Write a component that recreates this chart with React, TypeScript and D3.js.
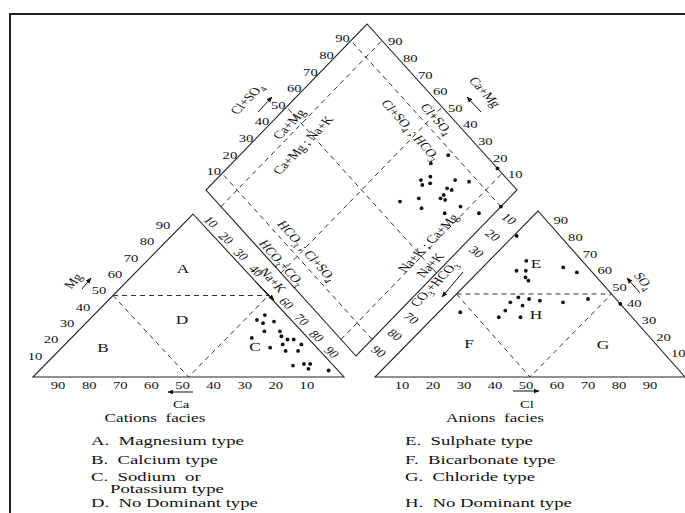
import React, { useEffect, useRef } from 'react'
import * as d3 from 'd3'

const W = 685
const H = 513
const FONT = '"Liberation Serif", "Times New Roman", serif'
// the printed figure is stretched sideways, its lettering too
const SX = 1.33

// tick labels
const ticks = [10, 20, 30, 40, 50, 60, 70, 80, 90]
const naKTicks = [10, 20, 30, 40, 60, 70, 80, 90]
const co3Ticks = [10, 20, 30, 70, 80, 90]

// cation triangle samples: [Na+K %, Mg %]
const cations = [
  [55, 38], [54, 35], [57, 33], [60, 34], [60, 28], [65, 28], [58, 24], [67, 25],
  [70, 23], [72, 23], [67, 18], [70, 20], [76, 20], [73, 16], [77, 16], [80, 7],
  [83, 8], [85, 8], [86, 5], [93, 4]
]

// anion triangle samples: [Cl %, SO4 %]
const anions = [
  [1, 85], [12, 70], [12, 64], [15, 64], [17, 60], [19, 58], [26, 66], [32, 63],
  [21, 48], [25, 47], [29, 46], [37, 45], [44, 47], [20, 45], [25, 43], [7, 39],
  [21, 40], [21, 36], [28, 36], [56, 44]
]

// diamond samples: [Ca+Mg %, Cl+SO4 %]
const diamond = [
  [33, 88], [13, 100], [36, 80], [34, 72], [32, 76], [32, 71], [30, 74], [23, 83],
  [18, 87], [34, 59], [29, 66], [25, 64], [23, 78], [21, 79], [22, 75], [22, 73],
  [20, 74], [13, 77], [16, 70], [5, 81], [0, 90]
]

const cationLegend = ['A.  Magnesium type', 'B.  Calcium type', 'C.  Sodium  or', 'D.  No Dominant type']
const anionLegend = ['E.  Sulphate type', 'F.  Bicarbonate type', 'G.  Chloride type', 'H.  No Dominant type']

type P = [number, number]

// affine frame: origin o, a -> towards u, b -> towards v (values in %)
const makeFrame = (o: P, u: P, v: P) => {
  const s = d3.scaleLinear().domain([0, 100]).range([0, 1])
  return (a: number, b: number): P => [
    o[0] + s(a) * (u[0] - o[0]) + s(b) * (v[0] - o[0]),
    o[1] + s(a) * (u[1] - o[1]) + s(b) * (v[1] - o[1])
  ]
}

const leftT = makeFrame([33, 377], [344, 377], [193, 214]) // (Na+K, Mg)
const rightT = makeFrame([375, 377], [685, 377], [538, 211]) // (Cl, SO4)
const dia = makeFrame([356, 356], [206, 190], [517, 190]) // (Ca+Mg, Cl+SO4)

const addText = (g: any, str: string, x: number, y: number, o: any = {}) => {
  const sx = o.sx || SX
  const th = ((o.rotate || 0) * Math.PI) / 180
  const phi = (Math.atan2(sx * Math.sin(th), Math.cos(th)) * 180) / Math.PI
  const t = g
    .append('text')
    .attr('transform', `translate(${x},${y}) scale(${sx},1) rotate(${phi})`)
    .attr('text-anchor', o.anchor || 'middle')
    .attr('dy', '0.35em')
    .attr('font-size', o.size || 11)
    .style('white-space', 'pre')
  let sub = false
  str.split(/(\{[^}]*\})/).forEach(p => {
    if (!p) return
    if (p.startsWith('{')) {
      t.append('tspan').attr('font-size', '0.72em').attr('dy', 3).text(p.slice(1, -1))
      sub = true
    } else {
      const ts = t.append('tspan').text(p)
      if (sub) {
        ts.attr('dy', -3)
        sub = false
      }
    }
  })
  return t
}

const App = () => {
  const ref = useRef<SVGSVGElement>(null)

  useEffect(() => {
    const svg = d3.select(ref.current)
    svg.selectAll('*').remove()

    svg
      .append('defs')
      .append('marker')
      .attr('id', 'ah')
      .attr('viewBox', '0 0 10 10')
      .attr('refX', 9)
      .attr('refY', 5)
      .attr('markerWidth', 6)
      .attr('markerHeight', 6)
      .attr('orient', 'auto')
      .append('path')
      .attr('d', 'M0,1L10,5L0,9Z')
      .attr('fill', '#111')

    const g = svg.append('g').attr('font-family', FONT).attr('fill', '#111')

    // frame
    g.append('rect')
      .attr('x', 10)
      .attr('y', 14)
      .attr('width', 1000)
      .attr('height', 1000)
      .attr('fill', 'none')
      .attr('stroke', '#222')
      .attr('stroke-width', 2)

    const line = d3.line()
    const solid = (pts: P[]) =>
      g.append('path').attr('d', line(pts) + 'Z').attr('fill', 'none').attr('stroke', '#222').attr('stroke-width', 1.1)
    const dashed = (pts: P[]) =>
      g.append('path').attr('d', line(pts)).attr('fill', 'none').attr('stroke', '#333').attr('stroke-width', 1).attr('stroke-dasharray', '5,4')
    const arrow = (a: P, b: P) =>
      g.append('line')
        .attr('x1', a[0]).attr('y1', a[1]).attr('x2', b[0]).attr('y2', b[1])
        .attr('stroke', '#111').attr('stroke-width', 1).attr('marker-end', 'url(#ah)')

    // outlines
    solid([leftT(0, 0), leftT(100, 0), leftT(0, 100)])
    solid([rightT(0, 0), rightT(100, 0), rightT(0, 100)])
    solid([dia(0, 0), dia(100, 0), dia(100, 100), dia(0, 100)])

    // facies boundaries
    ;[leftT, rightT].forEach(f => {
      dashed([f(0, 50), f(50, 50)])
      dashed([f(0, 50), f(50, 0), f(50, 50)])
    })
    ;[10, 50, 90].forEach(t => {
      dashed([dia(t, 0), dia(t, 100)])
      dashed([dia(0, t), dia(100, t)])
    })

    // ticks - cation triangle
    ticks.forEach(k => {
      const b = leftT(100 - k, 0)
      addText(g, String(k), b[0] - 6, b[1] + 8)
      const l = leftT(0, k)
      addText(g, String(k), l[0] - 14, l[1] - 5)
    })
    naKTicks.forEach(k => {
      const p = leftT(k, 100 - k)
      addText(g, String(k), p[0] + 3, p[1] - 8.5, { rotate: 40 })
    })

    // ticks - anion triangle
    ticks.forEach(k => {
      const b = rightT(k, 0)
      addText(g, String(k), b[0] - 4, b[1] + 8)
      const r = rightT(100 - k, k)
      addText(g, String(k), r[0] + 8, r[1] - 7)
    })
    co3Ticks.forEach(k => {
      const p = rightT(0, 100 - k)
      addText(g, String(k), p[0] - 12.5, p[1] - 9, { rotate: 35 })
    })

    // ticks - diamond
    ticks.forEach(k => {
      const a = dia(100, k)
      addText(g, String(k), a[0] - 1, a[1] - 2, { anchor: 'end' })
      const b = dia(k, 100)
      addText(g, String(k), b[0] + 6, b[1] + 1, { anchor: 'start' })
    })

    // axis names and arrows
    arrow([193, 392], [168, 392])
    addText(g, 'Ca', 181, 404)
    arrow([513, 391], [539, 391])
    addText(g, 'Cl', 527, 404)
    arrow([82, 289], [91, 278])
    addText(g, 'Mg', 73, 281, { rotate: -45 })
    arrow([255, 281], [274, 300])
    addText(g, 'Na+K', 273, 280, { rotate: 47 })
    arrow([640, 293], [627, 278])
    addText(g, 'SO{4}', 644, 281, { rotate: 50 })
    arrow([258, 112], [272, 97])
    addText(g, 'Cl+SO{4}', 247, 99, { rotate: -46 })
    arrow([481, 112], [467, 97])
    addText(g, 'Ca+Mg', 485, 92, { rotate: 48 })
    arrow([463, 272], [442, 297])
    addText(g, 'CO{3}+HCO{3}', 434, 284, { rotate: -46 })

    // diamond field names
    addText(g, 'Ca+Mg', 289, 124, { rotate: -46 })
    addText(g, 'Ca+Mg ; Na+K', 303, 145, { rotate: -46 })
    addText(g, 'Cl+SO{4}', 437, 119, { rotate: 48 })
    addText(g, 'Cl+SO{4} ; HCO{3}', 411, 130, { rotate: 48 })
    addText(g, 'HCO{3}+CO{3}', 282, 263, { rotate: 48 })
    addText(g, 'HCO{3} ; Cl+SO{4}', 307, 251, { rotate: 48 })
    addText(g, 'Na+K', 430, 265, { rotate: -46 })
    addText(g, 'Na+K ; Ca+Mg', 428, 243, { rotate: -46 })

    // facies letters
    const letters: [string, number, number][] = [
      ['A', 183, 268], ['D', 182, 319], ['B', 103, 347], ['C', 255, 346],
      ['E', 536, 263], ['H', 536, 314], ['F', 469, 343], ['G', 603, 344]
    ]
    letters.forEach(([s, x, y]) => addText(g, s, x, y, { size: 13 }))

    // samples
    const dot = (p: P) => g.append('circle').attr('cx', p[0]).attr('cy', p[1]).attr('r', 1.9).attr('fill', '#111')
    cations.forEach(d => dot(leftT(d[0], d[1])))
    anions.forEach(d => dot(rightT(d[0], d[1])))
    diamond.forEach(d => dot(dia(d[0], d[1])))

    // legend
    addText(g, 'Cations  facies', 155, 418, { size: 12.5, sx: 1.37 })
    addText(g, 'Anions  facies', 495, 418, { size: 12.5, sx: 1.37 })
    const rows = [441, 460, 477, 503]
    const lg = { anchor: 'start', size: 12, sx: 1.56 }
    cationLegend.forEach((s, i) => addText(g, s, 91, rows[i], lg))
    addText(g, 'Potassium type', 110, 489, lg)
    anionLegend.forEach((s, i) => addText(g, s, 405, rows[i], lg))
  })

  return (
    <svg
      ref={ref}
      width={W}
      height={H}
      style={{ position: 'fixed', left: 0, top: 0, background: '#fff' }}
    />
  )
}

export default App
